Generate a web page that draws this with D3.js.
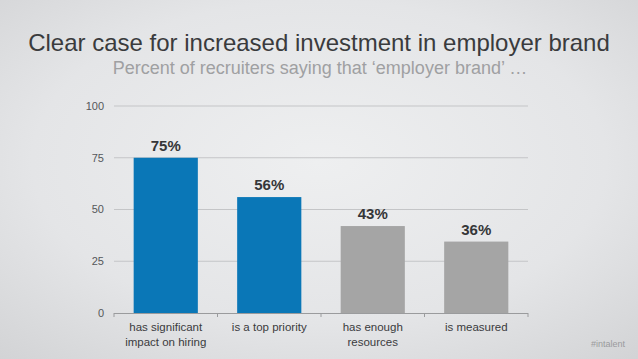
<!DOCTYPE html>
<html>
<head>
<meta charset="utf-8">
<script src="https://cdn.jsdelivr.net/npm/d3@7"></script>
<style>
  html, body { margin: 0; padding: 0; }
  body { width: 638px; height: 359px; overflow: hidden; }
  svg { display: block; font-family: "Liberation Sans", Arial, sans-serif; }
</style>
</head>
<body>
<script>
// data
const categories = [
  ["has significant", "impact on hiring"],
  ["is a top priority"],
  ["has enough", "resources"],
  ["is measured"]
]
const values = [75, 56, 42, 34.5]           // bar heights as drawn
const valueLabels = ["75%", "56%", "43%", "36%"] // printed labels
const barColors = ["#0a77b7", "#0a77b7", "#a5a5a5", "#a5a5a5"]
const yTicks = [0, 25, 50, 75, 100]

const width = 638
const height = 359
const margin = { top: 106, right: 110, bottom: 46, left: 114 }

const svg = d3.select("body").append("svg")
  .attr("width", width)
  .attr("height", height)

// slide background
const defs = svg.append("defs")
const grad = defs.append("radialGradient")
  .attr("id", "bg")
  .attr("cx", "50%").attr("cy", "45%").attr("r", "75%")
grad.append("stop").attr("offset", "0%").attr("stop-color", "#eeeff0")
grad.append("stop").attr("offset", "60%").attr("stop-color", "#e4e5e7")
grad.append("stop").attr("offset", "100%").attr("stop-color", "#d2d3d5")

svg.append("rect")
  .attr("width", width)
  .attr("height", height)
  .attr("fill", "url(#bg)")

// titles
svg.append("text")
  .attr("x", 319)
  .attr("y", 51)
  .attr("text-anchor", "middle")
  .attr("fill", "#3a3b3d")
  .style("font-size", "24px")
  .text("Clear case for increased investment in employer brand")

svg.append("text")
  .attr("x", 320)
  .attr("y", 74)
  .attr("text-anchor", "middle")
  .attr("fill", "#9fa0a2")
  .style("font-size", "18px")
  .text("Percent of recruiters saying that \u2018employer brand\u2019 \u2026")

// scales
const x = d3.scaleBand()
  .domain(d3.range(categories.length))
  .range([margin.left, width - margin.right])
  .paddingInner(0.38)
  .paddingOuter(0.19)

const y = d3.scaleLinear()
  .domain([0, 100])
  .range([height - margin.bottom, margin.top])

// gridlines
svg.append("g")
  .selectAll("line")
  .data(yTicks.filter(d => d > 0))
  .join("line")
    .attr("x1", margin.left)
    .attr("x2", width - margin.right)
    .attr("y1", d => y(d))
    .attr("y2", d => y(d))
    .attr("stroke", "#c4c5c7")
    .attr("stroke-width", 1)

// y tick labels
svg.append("g")
  .selectAll("text")
  .data(yTicks)
  .join("text")
    .attr("x", margin.left - 10)
    .attr("y", d => y(d))
    .attr("dy", "0.35em")
    .attr("text-anchor", "end")
    .attr("fill", "#55575a")
    .style("font-size", "11px")
    .text(d => d)

// bars
svg.append("g")
  .selectAll("rect")
  .data(values)
  .join("rect")
    .attr("x", (d, i) => x(i))
    .attr("y", d => y(d))
    .attr("width", x.bandwidth())
    .attr("height", d => y(0) - y(d))
    .attr("fill", (d, i) => barColors[i])

// value labels
svg.append("g")
  .selectAll("text")
  .data(values)
  .join("text")
    .attr("x", (d, i) => x(i) + x.bandwidth() / 2)
    .attr("y", d => y(d) - 7)
    .attr("text-anchor", "middle")
    .attr("fill", "#353638")
    .style("font-size", "15px")
    .style("font-weight", "bold")
    .text((d, i) => valueLabels[i])

// x axis line + ticks
const axisY = y(0)
svg.append("line")
  .attr("x1", margin.left)
  .attr("x2", width - margin.right)
  .attr("y1", axisY + 0.5)
  .attr("y2", axisY + 0.5)
  .attr("stroke", "#9a9b9d")

const step = x.step()
svg.append("g")
  .selectAll("line")
  .data(d3.range(categories.length + 1))
  .join("line")
    .attr("x1", d => margin.left + d * step)
    .attr("x2", d => margin.left + d * step)
    .attr("y1", axisY)
    .attr("y2", axisY + 4)
    .attr("stroke", "#9a9b9d")

// category labels
const cat = svg.append("g")
  .selectAll("text")
  .data(categories)
  .join("text")
    .attr("x", (d, i) => x(i) + x.bandwidth() / 2)
    .attr("y", axisY + 18)
    .attr("text-anchor", "middle")
    .attr("fill", "#3a3b3d")
    .style("font-size", "11.5px")

cat.selectAll("tspan")
  .data(d => d)
  .join("tspan")
    .attr("x", function() { return this.parentNode.getAttribute("x") })
    .attr("dy", (d, i) => i === 0 ? 0 : 14.5)
    .text(d => d)

// watermark
svg.append("text")
  .attr("x", 625)
  .attr("y", 347)
  .attr("text-anchor", "end")
  .attr("fill", "#9a9b9d")
  .style("font-size", "9px")
  .text("#intalent")
</script>
</body>
</html>
